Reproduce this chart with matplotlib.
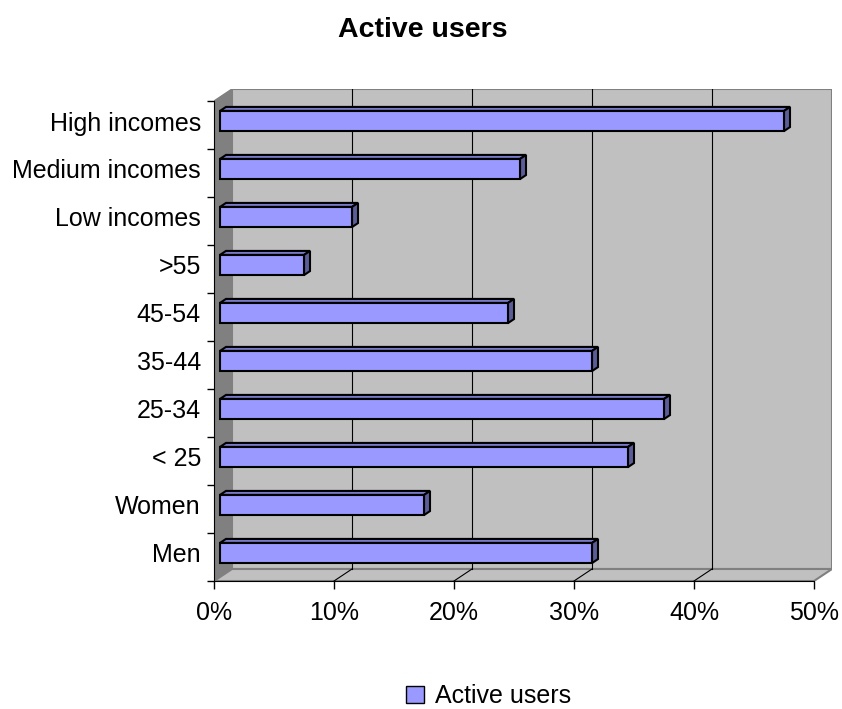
import matplotlib.pyplot as plt
from matplotlib.patches import Polygon, Patch

# data (bottom to top)
categories = ["Men", "Women", "< 25", "25-34", "35-44", "45-54", ">55",
              "Low incomes", "Medium incomes", "High incomes"]
active_users = [31, 17, 34, 37, 31, 24, 7, 11, 25, 47]
x_ticks = [0, 10, 20, 30, 40, 50]
x_labels = ["0%", "10%", "20%", "30%", "40%", "50%"]

plt.rcParams["font.family"] = ["Liberation Sans", "DejaVu Sans"]

# depth of the 3d box in data units (x in %, y in category slots)
DX, DY = 1.5, 0.25
XMAX = 50
BAR_H = 0.42
bar_color = "#9999ff"
top_color = "#7a7acc"
side_color = "#5c5c99"

fig = plt.figure(figsize=(8.42, 7.09), dpi=100)
ax = fig.add_axes([214 / 842, 128 / 709, 618 / 842, 492 / 709])
n = len(categories)
ax.set_xlim(0, XMAX + DX)
ax.set_ylim(-0.5, n - 0.5 + DY)

# back wall, side wall, floor
ax.add_patch(Polygon([(DX, -0.5 + DY), (XMAX + DX, -0.5 + DY),
                      (XMAX + DX, n - 0.5 + DY), (DX, n - 0.5 + DY)],
                     facecolor="#c0c0c0", edgecolor="#808080", lw=1.5, zorder=1))
ax.add_patch(Polygon([(0, -0.5), (DX, -0.5 + DY), (DX, n - 0.5 + DY), (0, n - 0.5)],
                     facecolor="#808080", edgecolor="#808080", lw=1, zorder=1))
ax.add_patch(Polygon([(0, -0.5), (XMAX, -0.5), (XMAX + DX, -0.5 + DY), (DX, -0.5 + DY)],
                     facecolor="#c0c0c0", edgecolor="#808080", lw=1.5, zorder=1))

# gridlines on the back wall and the floor
for t in x_ticks[1:-1]:
    ax.plot([t + DX, t + DX], [-0.5 + DY, n - 0.5 + DY], color="black", lw=0.8, zorder=2)
    ax.plot([t, t + DX], [-0.5, -0.5 + DY], color="black", lw=0.8, zorder=2)

# bars: front face at 1/3 of depth, back at 2/3
fx, fy = DX / 3, DY / 3
for i, v in enumerate(active_users):
    yb = i + fy - BAR_H / 2
    yt = i + fy + BAR_H / 2
    ax.add_patch(Polygon([(fx, yt), (fx + v, yt), (2 * fx + v, yt + fy), (2 * fx, yt + fy)],
                         facecolor=top_color, edgecolor="black", lw=1.5, zorder=4))
    ax.add_patch(Polygon([(fx + v, yb), (fx + v, yt), (2 * fx + v, yt + fy), (2 * fx + v, yb + fy)],
                         facecolor=side_color, edgecolor="black", lw=1.5, zorder=4))
ax.barh([i + fy for i in range(n)], active_users, height=BAR_H, left=fx,
        color=bar_color, edgecolor="black", linewidth=1.5, zorder=5)

# axes
ax.spines["top"].set_visible(False)
ax.spines["right"].set_visible(False)
ax.spines["left"].set_bounds(-0.5, n - 0.5)
ax.spines["bottom"].set_bounds(0, XMAX)
ax.spines["left"].set_zorder(3)
ax.spines["bottom"].set_zorder(3)
ax.set_xticks(x_ticks, x_labels)
ax.set_yticks([i - 0.5 for i in range(n + 1)], [""] * (n + 1))
ax.set_yticks([i + fy for i in range(n)], categories, minor=True)
ax.tick_params(axis="x", length=6, width=1, pad=8.5, labelsize=18)
ax.tick_params(axis="y", which="major", length=5, width=1)
ax.tick_params(axis="y", which="minor", length=0, pad=9.4, labelsize=18)

fig.text(0.502, 0.958, "Active users", ha="center", va="center",
         fontsize=20.5, fontweight="bold")

fig.legend(handles=[Patch(facecolor=bar_color, edgecolor="black", label="Active users")],
           loc="center", bbox_to_anchor=(0.580, 0.018), frameon=False, fontsize=18,
           handlelength=0.72, handleheight=0.72, handletextpad=0.45)

fig.savefig("out.png", dpi=100)
